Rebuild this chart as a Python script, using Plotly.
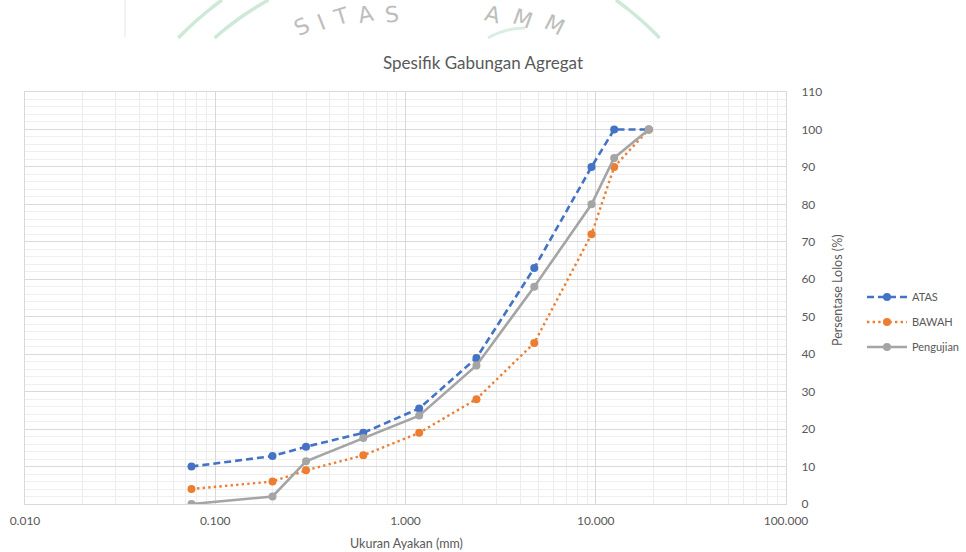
import plotly.graph_objects as go
import numpy as np

# ---- data ----
sieve_mm = [0.075, 0.2, 0.3, 0.6, 1.18, 2.36, 4.75, 9.5, 12.5, 19]
atas = [10, 12.8, 15.3, 19, 25.5, 39, 63, 90, 100, 100]
bawah = [4, 6, 9, 13, 19, 28, 43, 72, 90, 100]
pengujian = [0, 2, 11.4, 17.6, 23.6, 37, 58, 80, 92.4, 100]

series_names = ["ATAS", "BAWAH", "Pengujian"]
x_tickvals = [0.01, 0.1, 1, 10, 100]
x_minor_vals = [m * d for d in [0.01, 0.1, 1, 10] for m in range(2, 10)]

W, H = 966, 552
ML, MR, MT, MB = 25, 180, 92, 48
PW, PH = W - ML - MR, H - MT - MB

def px(x):
    return (x - ML) / PW

def py(y):
    return (H - MB - y) / PH

FONT = "Lato"
TXT = "#595959"

fig = go.Figure()
fig.add_trace(go.Scatter(
    x=sieve_mm, y=atas, name=series_names[0], mode="lines+markers", legendgroup="a",
    line=dict(color="#4472C4", width=2.6, dash="7px,4px"),
    marker=dict(size=8, color="#4472C4")))
fig.add_trace(go.Scatter(
    x=sieve_mm, y=bawah, name=series_names[1], mode="lines+markers", legendgroup="b",
    line=dict(color="#ED7D31", width=2.4, dash="2.4px,3.2px"),
    marker=dict(size=8, color="#ED7D31")))
fig.add_trace(go.Scatter(
    x=sieve_mm, y=pengujian, name=series_names[2], mode="lines+markers", legendgroup="c",
    line=dict(color="#A5A5A5", width=2.6),
    marker=dict(size=8, color="#A5A5A5")))

fig.update_layout(
    width=W, height=H,
    margin=dict(l=ML, r=MR, t=MT, b=MB, autoexpand=False),
    paper_bgcolor="white", plot_bgcolor="white",
    font=dict(family=FONT, color=TXT, size=12),
    title=dict(text="Spesifik Gabungan Agregat", x=0.5, xref="container",
               y=1 - 63 / H, yref="container", xanchor="center", yanchor="middle",
               font=dict(family=FONT, size=17, color=TXT)),
    showlegend=True,
    legend=dict(x=px(862), y=py(322), xanchor="left", yanchor="middle",
                font=dict(family=FONT, size=11, color=TXT), tracegroupgap=6,
                itemwidth=40, bgcolor="rgba(0,0,0,0)"),
    xaxis=dict(type="log", range=[-2, 2], tickvals=x_tickvals, tickformat=".3f",
               showgrid=True, gridcolor="#d9d9d9", gridwidth=1, automargin=False,
               minor=dict(showgrid=True, gridcolor="#ececec", tickmode="array",
                          tickvals=x_minor_vals, ticks=""),
               showline=True, linecolor="#d9d9d9", mirror=True, zeroline=False,
               ticks="", ticklabelstandoff=6,
               tickfont=dict(family=FONT, size=12, color=TXT)),
    yaxis=dict(side="right", range=[0, 110], dtick=10, automargin=False,
               showgrid=True, gridcolor="#d9d9d9", gridwidth=1,
               minor=dict(showgrid=True, gridcolor="#efefef", dtick=2, ticks=""),
               showline=True, linecolor="#d9d9d9", mirror=True, zeroline=False,
               ticks="", ticklabelstandoff=12,
               tickfont=dict(family=FONT, size=12, color=TXT)),
)

annotations = [
    dict(text="Ukuran Ayakan (mm)", x=px(406), y=py(543), xref="paper", yref="paper",
         showarrow=False, xanchor="center", yanchor="middle",
         font=dict(family=FONT, size=12.5, color=TXT)),
    dict(text="Persentase Lolos (%)", x=px(837), y=py(290), xref="paper", yref="paper",
         showarrow=False, xanchor="center", yanchor="middle", textangle=-90,
         font=dict(family=FONT, size=12.5, color=TXT)),
]

# ---- faint watermark strip at the top (decoration) ----
shapes = []
cx, cy = 419, 271

def arc_path(R, side):
    ys = np.linspace(0, 38, 20)
    dx = np.sqrt(np.maximum(R ** 2 - (cy - ys) ** 2, 0))
    xs = cx - dx if side == "L" else cx + dx
    return "M " + " L ".join(f"{px(x):.5f},{py(y):.5f}" for x, y in zip(xs, ys))

for R, side in [(335, "L"), (310, "L"), (335, "R")]:
    shapes.append(dict(type="path", path=arc_path(R, side), xref="paper", yref="paper",
                       line=dict(color="#cfe9d9", width=3.5), layer="above"))
shapes.append(dict(type="line", x0=px(125), x1=px(125), y0=py(0), y1=py(37), xref="paper",
                   yref="paper", line=dict(color="#e6e6e6", width=1)))
shapes.append(dict(type="path",
                   path=f"M {px(488):.5f},{py(38):.5f} Q {px(505):.5f},{py(28):.5f} {px(525):.5f},{py(28):.5f}",
                   xref="paper", yref="paper", line=dict(color="#d9eee1", width=3)))

letters = [("S", 302, 27, -27), ("I", 321, 22, -22), ("T", 341, 17, -17), ("A", 365, 14, -12),
           ("S", 392, 14, -6), ("A", 492, 15, 14), ("M", 522, 19, 20), ("M", 554, 25, 27)]
for ch, lx, ly, ang in letters:
    annotations.append(dict(text=ch, x=px(lx), y=py(ly), xref="paper", yref="paper",
                            showarrow=False, textangle=ang, xanchor="center", yanchor="middle",
                            font=dict(family="DejaVu Sans", size=22, color="#bdbdbd")))

fig.update_layout(annotations=annotations, shapes=shapes)
fig.write_html("out.html")
